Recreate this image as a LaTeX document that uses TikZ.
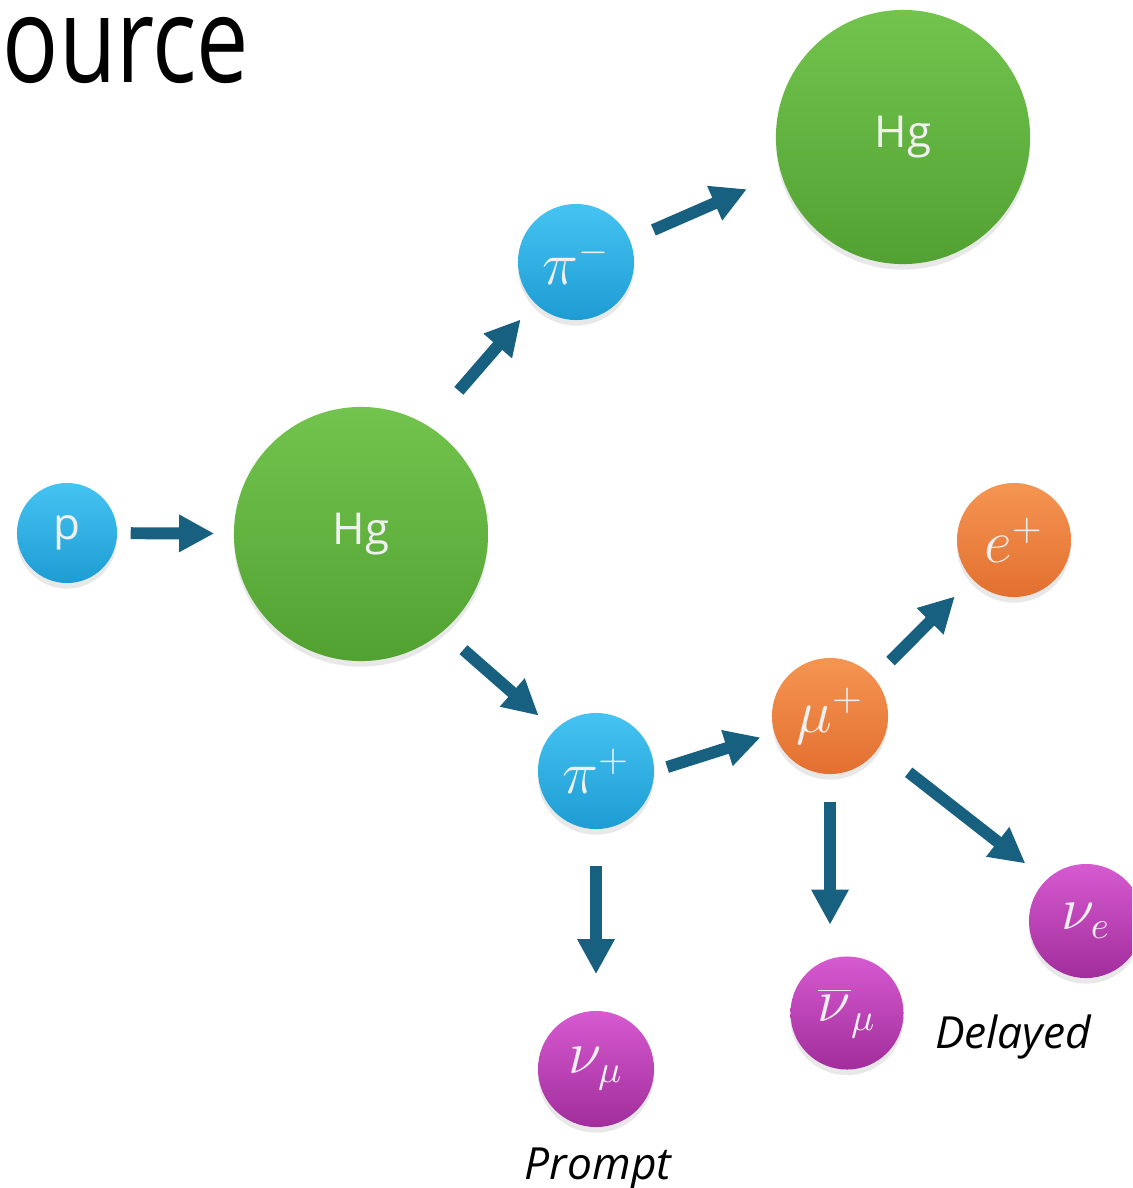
\documentclass[tikz,border=0pt]{standalone}
\usepackage{fontspec}
\setmainfont{Open Sans}
\usetikzlibrary{arrows.meta,shadows}

\definecolor{bluetop}{HTML}{45C3F2}
\definecolor{bluemid}{HTML}{1FA3DC}
\definecolor{greentop}{HTML}{72C44E}
\definecolor{greenmid}{HTML}{55A834}
\definecolor{orangetop}{HTML}{F59552}
\definecolor{orangemid}{HTML}{EC7432}
\definecolor{purpletop}{HTML}{D65AD0}
\definecolor{purplemid}{HTML}{A82FA2}
\definecolor{arrowc}{HTML}{17607F}

\begin{document}
\begin{tikzpicture}[x=0.01cm, y=-0.01cm, >={Triangle[length=10pt,width=10pt]},
  ball/.style={circle, inner sep=0pt, text=white!94!black,
    drop shadow={opacity=0.18, shadow xshift=0pt, shadow yshift=-1.6pt},
    font=\fontsize{16}{19}\selectfont},
  blueball/.style={ball, top color=bluetop, middle color=bluemid, bottom color=bluemid!96!black},
  greenball/.style={ball, top color=greentop, middle color=greenmid, bottom color=greenmid!96!black},
  orangeball/.style={ball, top color=orangetop, middle color=orangemid, bottom color=orangemid!96!black},
  purpleball/.style={ball, top color=purpletop, middle color=purplemid, bottom color=purplemid!96!black},
  nucleus/.style={greenball, minimum size=2.54cm, font=\fontsize{12.5}{15}\selectfont},
  particle/.style={minimum size=1.16cm},
  tag/.style={anchor=base, inner sep=0pt, font=\fontsize{12.6}{15}\selectfont\itshape},
  flow/.style={->, line width=3.4pt, draw=arrowc}]
\useasboundingbox (0,0) rectangle (1132,1188);
\clip (0,0) rectangle (1132,1188);

% title fragment
\node[anchor=base west, inner sep=0pt, font=\fontsize{34}{40}\selectfont] (title) at (2,83) {\scalebox{0.78}[1]{ource}};

% particles
\node[blueball, minimum size=1.0cm, font=\fontsize{12.5}{15}\selectfont] (p) at (67,533) {p};
\node[nucleus] (hg) at (361,534) {Hg};
\node[nucleus] (hgt) at (903,137) {Hg};
\node[blueball, particle] (pim) at (576,262) {$\pi^-$};
\node[blueball, particle] (pip) at (596,771) {$\pi^+$};
\node[orangeball, particle] (mup) at (830,716) {$\mu^+$};
\node[orangeball, particle, minimum size=1.14cm] (ep) at (1014,540) {$e^+$};
\node[purpleball, particle] (nm) at (596,1069) {$\nu_\mu$};
\node[purpleball, particle, minimum size=1.13cm] (nmb) at (847,1013) {$\overline{\nu}_\mu$};
\node[purpleball, particle, minimum size=1.14cm] (nue) at (1086,921) {$\nu_e$};

\node[tag] (prompt) at (598,1179) {Prompt};
\node[tag] (delayed) at (1013,1048) {Delayed};

% decays
\draw[flow, shorten <=0.13cm, shorten >=0.19cm] (p) -- (hg);
\draw[flow, shorten <=0.46cm, shorten >=0.21cm] (hg.58) -- (pim.225);
\draw[flow, shorten <=0.25cm, shorten >=0.37cm] (pim.22.6) -- (hgt.197.8);
\draw[flow, shorten <=0.27cm, shorten >=0.21cm] (hg.-50) -- (pip.135);
\draw[flow, shorten <=0.13cm, shorten >=0.14cm] (pip.0) -- (mup.197);
\draw[flow, shorten <=0.23cm, shorten >=0.24cm] (mup.41.5) -- (ep.223.5);
\draw[flow, shorten <=0.38cm, shorten >=0.26cm] (mup.-34.7) -- (nue.134.5);
\draw[flow, shorten <=0.27cm, shorten >=0.31cm] (mup.south) -- (mup.south |- nmb.north);
\draw[flow, shorten <=0.36cm, shorten >=0.36cm] (pip.south) -- (nm.north);
\end{tikzpicture}
\end{document}
